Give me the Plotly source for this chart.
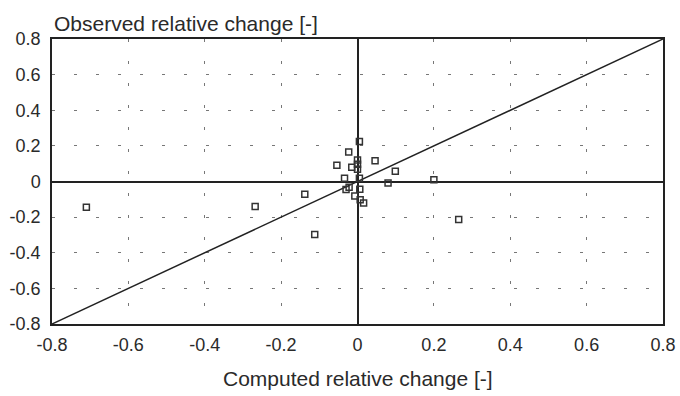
import plotly.graph_objects as go

computed = [-0.71, -0.268, -0.138, -0.112, 0.265, 0.20, 0.08, 0.099,
            0.005, -0.023, 0.046, -0.054, -0.015, 0.0, 0.0, 0.0,
            -0.034, 0.005, -0.022, -0.030, 0.006, -0.007, 0.007, 0.016]
observed = [-0.145, -0.14, -0.072, -0.297, -0.213, 0.01, -0.008, 0.057,
            0.224, 0.166, 0.116, 0.091, 0.08, 0.121, 0.097, 0.069,
            0.018, 0.018, -0.032, -0.045, -0.043, -0.082, -0.102, -0.121]
diag = [-0.8, 0.8]
ticks = [-0.8, -0.6, -0.4, -0.2, 0, 0.2, 0.4, 0.6, 0.8]
tick_labels = ["-0.8", "-0.6", "-0.4", "-0.2", "0", "0.2", "0.4", "0.6", "0.8"]

TXT = "#2a2a2a"

fig = go.Figure()
fig.add_trace(go.Scatter(x=diag, y=diag, mode="lines",
                         line=dict(color="#222", width=1.5), hoverinfo="skip"))
fig.add_trace(go.Scatter(x=computed, y=observed, mode="markers",
                         marker=dict(symbol="square-open", size=6,
                                     color="#333", line=dict(width=1.5))))

axis_common = dict(range=[-0.8, 0.8], tickvals=ticks, ticktext=tick_labels,
                   showgrid=True, gridcolor="#777", griddash="3px,19px", gridwidth=1,
                   zeroline=True, zerolinecolor="#222", zerolinewidth=1.5,
                   showline=True, linecolor="#222", linewidth=1.5, mirror=True,
                   ticks="outside", tickcolor="rgba(0,0,0,0)",
                   tickfont=dict(size=18, color=TXT), automargin=False)

fig.update_layout(
    width=680, height=396,
    margin=dict(l=52, r=17, t=39, b=72),
    paper_bgcolor="white", plot_bgcolor="white",
    showlegend=False,
    font=dict(family="Liberation Sans, Arial, sans-serif", color=TXT),
    xaxis=dict(**axis_common, ticklen=4),
    yaxis=dict(**axis_common, ticklen=6),
    annotations=[
        dict(text="Observed relative change [-]", xref="paper", yref="paper",
             x=0.0, y=1 + 16 / 285, xanchor="left", yanchor="middle",
             showarrow=False, font=dict(size=21, color=TXT)),
        dict(text="Computed relative change [-]", xref="paper", yref="paper",
             x=0.5, y=-54 / 285, xanchor="center", yanchor="middle",
             showarrow=False, font=dict(size=21, color=TXT)),
    ],
)
fig.write_html("out.html", config={"displayModeBar": False},
               post_script="document.body.style.margin='0';")
